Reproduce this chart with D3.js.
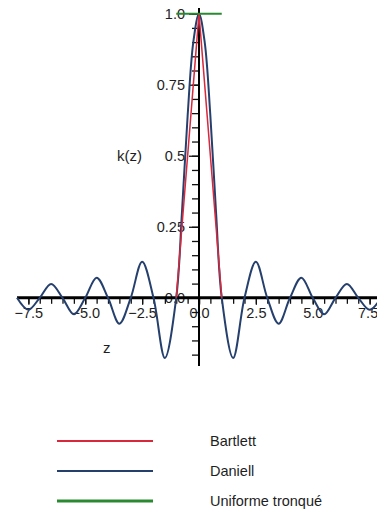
<!DOCTYPE html>
<html>
<head>
<meta charset="utf-8">
<script src="https://cdn.jsdelivr.net/npm/d3@7"></script>
<style>
  body { margin: 0; background: #fff; }
  svg { display: block; font-family: "Liberation Sans", Arial, sans-serif; }
  .tick text { fill: #1e1e1e; }
</style>
</head>
<body>
<div id="chart"></div>
<script>
// valeurs
const seriesNames = ["Bartlett", "Daniell", "Uniforme tronqué"];
const seriesColors = ["#d8283c", "#26406e", "#2a8a30"];

const bartlettZ = [-1, 0, 1];
const bartlettK = [0, 1, 0];

const daniellZ = [-8, -7.5, -7, -6.5, -6, -5.5, -5, -4.5, -4, -3.5, -3, -2.5, -2, -1.5, -1,
  -0.75, -0.5, -0.25, 0, 0.25, 0.5, 0.75,
  1, 1.5, 2, 2.5, 3, 3.5, 4, 4.5, 5, 5.5, 6, 6.5, 7, 7.5, 8];
const daniellK = [0, -0.042, 0, 0.049, 0, -0.058, 0, 0.071, 0, -0.091, 0, 0.127, 0, -0.212, 0,
  0.30, 0.64, 0.90, 1, 0.90, 0.64, 0.30,
  0, -0.212, 0, 0.127, 0, -0.091, 0, 0.071, 0, -0.058, 0, 0.049, 0, -0.042, 0];

const uniformZ = [-1, 1];
const uniformK = [1, 1];

const xMajorTicks = [-7.5, -5, -2.5, 0, 2.5, 5, 7.5];
const xMinorTicks = d3.range(-7.5, 8, 0.5);
const yMajorTicks = [0, 0.25, 0.5, 0.75, 1];
const yTickLabels = ["0.0", "0.25", "0.5", "0.75", "1.0"];
const yMinorTicks = d3.range(-0.2, 1.0001, 0.05);

const W = 377, H = 512;
const svg = d3.select("#chart").append("svg").attr("width", W).attr("height", H);

const x = d3.scaleLinear().domain([-8, 8]).range([17, 381]);
const y = d3.scaleLinear().domain([-0.24, 1.02]).range([366, 8]);

// axe des x : graduations mineures vers le bas
svg.append("g")
  .attr("transform", `translate(0,${y(0)})`)
  .call(d3.axisBottom(x).tickValues(xMinorTicks).tickSize(6).tickFormat(""))
  .call(g => g.select(".domain").remove())
  .call(g => g.selectAll("line").attr("stroke", "#111").attr("stroke-width", 1.3));

svg.append("g")
  .attr("transform", `translate(0,${y(0)})`)
  .call(d3.axisBottom(x).tickValues(xMajorTicks).tickSize(7).tickPadding(3)
    .tickFormat(d3.format(".1f")))
  .call(g => g.select(".domain").remove())
  .call(g => g.selectAll("line").attr("stroke", "#111").attr("stroke-width", 1.3))
  .call(g => g.selectAll("text").attr("font-size", 14.5).attr("fill", "#1e1e1e"))
  // le dernier libellé est collé au bord droit
  .call(g => g.selectAll("text").filter(d => d === 7.5).attr("dx", -2));

// axe des y
svg.append("g")
  .attr("transform", `translate(${x(0)},0)`)
  .call(d3.axisLeft(y).tickValues(yMinorTicks).tickSize(7).tickFormat(""))
  .call(g => g.select(".domain").remove())
  .call(g => g.selectAll("line").attr("stroke", "#111").attr("stroke-width", 1.3));

svg.append("g")
  .attr("transform", `translate(${x(0)},0)`)
  .call(d3.axisLeft(y).tickValues(yMajorTicks).tickSize(10).tickPadding(4)
    .tickFormat((d, i) => yTickLabels[i]))
  .call(g => g.select(".domain").remove())
  .call(g => g.selectAll("line").attr("stroke", "#111").attr("stroke-width", 1.3))
  .call(g => g.selectAll("text").attr("font-size", 14.5).attr("fill", "#1e1e1e"));

svg.append("line")
  .attr("x1", x(-8)).attr("x2", x(8))
  .attr("y1", y(0)).attr("y2", y(0))
  .attr("stroke", "#000").attr("stroke-width", 3);

svg.append("line")
  .attr("x1", x(0)).attr("x2", x(0))
  .attr("y1", y(-0.24)).attr("y2", y(1.02))
  .attr("stroke", "#000").attr("stroke-width", 2);

// courbes
const toPts = (zs, ks) => zs.map((z, i) => [z, ks[i]]);

svg.append("path")
  .datum(toPts(daniellZ, daniellK))
  .attr("fill", "none")
  .attr("stroke", seriesColors[1])
  .attr("stroke-width", 2)
  .attr("d", d3.line().x(d => x(d[0])).y(d => y(d[1])).curve(d3.curveCatmullRom.alpha(0.5)));

svg.append("path")
  .datum(toPts(bartlettZ, bartlettK))
  .attr("fill", "none")
  .attr("stroke", seriesColors[0])
  .attr("stroke-width", 1.5)
  .attr("d", d3.line().x(d => x(d[0])).y(d => y(d[1])));

svg.append("path")
  .datum(toPts(uniformZ, uniformK))
  .attr("fill", "none")
  .attr("stroke", seriesColors[2])
  .attr("stroke-width", 2)
  .attr("d", d3.line().x(d => x(d[0])).y(d => y(d[1])));

// titres des axes
svg.append("text").attr("x", 117).attr("y", 161)
  .attr("font-size", 15).attr("fill", "#1e1e1e").text("k(z)");
svg.append("text").attr("x", 103).attr("y", 353)
  .attr("font-size", 15).attr("fill", "#1e1e1e").text("z");

// légende
const legend = svg.append("g");
seriesNames.forEach((name, i) => {
  const yy = 441 + i * 30;
  legend.append("line")
    .attr("x1", 57).attr("x2", 153).attr("y1", yy).attr("y2", yy)
    .attr("stroke", seriesColors[i]).attr("stroke-width", i === 2 ? 3 : 2);
  legend.append("text")
    .attr("x", 210).attr("y", yy).attr("dy", "0.36em")
    .attr("font-size", 14.5).attr("fill", "#1e1e1e").text(name);
});
</script>
</body>
</html>
